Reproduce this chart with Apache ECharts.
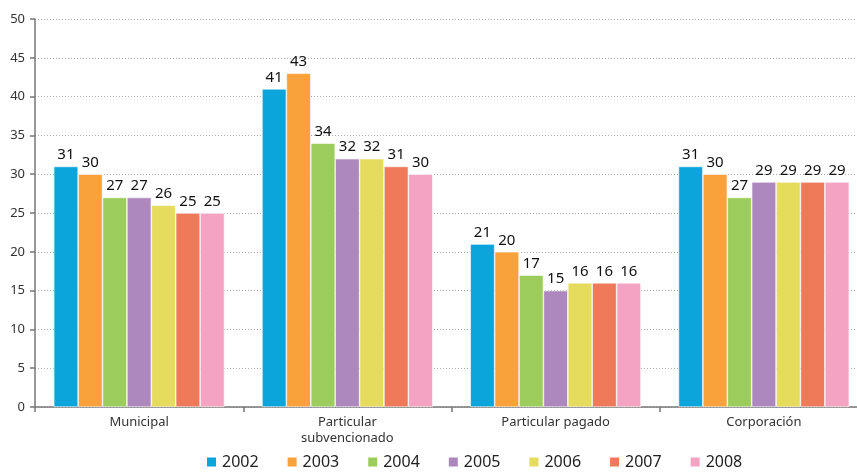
<!DOCTYPE html>
<html><head><meta charset="utf-8">
<script src="https://cdn.jsdelivr.net/npm/echarts@6/dist/echarts.min.js"></script>
<style>html,body{margin:0;padding:0;background:#fff}#c{width:857px;height:472px}</style>
</head><body><div id="c"></div>
<script>
const categories = ['Municipal', 'Particular\nsubvencionado', 'Particular pagado', 'Corporación'];
const years = ['2002', '2003', '2004', '2005', '2006', '2007', '2008'];
const v2002 = [31, 41, 21, 31];
const v2003 = [30, 43, 20, 30];
const v2004 = [27, 34, 17, 27];
const v2005 = [27, 32, 15, 29];
const v2006 = [26, 32, 16, 29];
const v2007 = [25, 31, 16, 29];
const v2008 = [25, 30, 16, 29];
const yTicks = [0, 5, 10, 15, 20, 25, 30, 35, 40, 45, 50];

const values = [v2002, v2003, v2004, v2005, v2006, v2007, v2008];
const colors = ['#0ba5dc', '#f9a23b', '#9ccd5c', '#ad88bf', '#e5dc5e', '#ee7a5a', '#f5a3c3'];
const font = 'Noto Sans';

const chart = echarts.init(document.getElementById('c'));
chart.setOption({
  animation: false,
  textStyle: { fontFamily: font },
  grid: { left: 35, top: 19, bottom: 65, width: 833, outerBoundsMode: 'none', containLabel: false },
  legend: {
    bottom: -3, left: 200, itemWidth: 11, itemHeight: 11, itemGap: 27,
    icon: 'rect',
    textStyle: { fontSize: 16, color: '#222', fontFamily: font, padding: [2, 0, 0, 0] },
    data: years
  },
  xAxis: {
    type: 'category', data: categories,
    axisLine: { lineStyle: { color: '#777', width: 1.5 } },
    axisTick: { show: true, length: 5, lineStyle: { color: '#777', width: 1.5 } },
    axisLabel: { color: '#333', fontSize: 13, lineHeight: 16, margin: 7, fontFamily: font }
  },
  yAxis: {
    type: 'value', min: 0, max: 50, interval: 5,
    axisLine: { show: true, lineStyle: { color: '#777', width: 1.5 } },
    axisTick: { show: true, length: 5, lineStyle: { color: '#777', width: 1.5 } },
    axisLabel: { color: '#333', fontSize: 13, margin: 10, fontFamily: font },
    splitLine: { lineStyle: { color: '#aaa', type: [1, 2], width: 1 } }
  },
  series: years.map((y, i) => ({
    name: y, type: 'bar', data: values[i],
    barGap: '0%', barCategoryGap: '18%',
    itemStyle: { color: colors[i], borderColor: '#fff', borderWidth: 0.6 },
    label: { show: true, position: 'top', color: '#111', fontSize: 15, distance: 4, fontFamily: font }
  }))
});
</script></body></html>
